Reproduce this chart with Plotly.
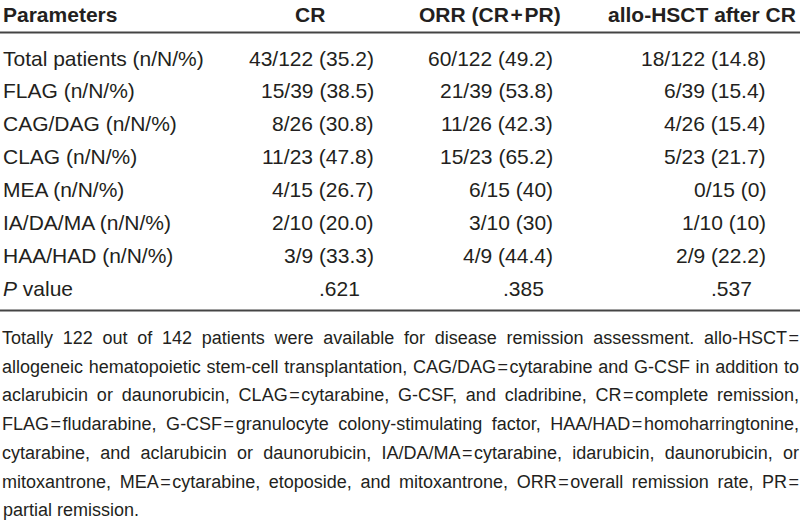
import json
import plotly.graph_objects as go

W, H = 800, 524

headers = ["Parameters", "CR", "ORR (CR\u200a+\u200aPR)", "allo-HSCT after CR"]
params = ["Total patients (n/N/%)", "FLAG (n/N/%)", "CAG/DAG (n/N/%)", "CLAG (n/N/%)",
          "MEA (n/N/%)", "IA/DA/MA (n/N/%)", "HAA/HAD (n/N/%)"]
cr_vals = ["43/122 (35.2)", "15/39 (38.5)", "8/26 (30.8)", "11/23 (47.8)",
           "4/15 (26.7)", "2/10 (20.0)", "3/9 (33.3)"]
orr_vals = ["60/122 (49.2)", "21/39 (53.8)", "11/26 (42.3)", "15/23 (65.2)",
            "6/15 (40)", "3/10 (30)", "4/9 (44.4)"]
allo_vals = ["18/122 (14.8)", "6/39 (15.4)", "4/26 (15.4)", "5/23 (21.7)",
             "0/15 (0)", "1/10 (10)", "2/9 (22.2)"]
p_label = "<i>P</i> value"
p_vals = [".621", ".385", ".537"]

EQ = "\u200a=\u200a"
footnote = [
    "Totally 122 out of 142 patients were available for disease remission assessment. allo-HSCT\u200a=",
    f"allogeneic hematopoietic stem-cell transplantation, CAG/DAG{EQ}cytarabine and G-CSF in addition to",
    f"aclarubicin or daunorubicin, CLAG{EQ}cytarabine, G-CSF, and cladribine, CR{EQ}complete remission,",
    f"FLAG{EQ}fludarabine, G-CSF{EQ}granulocyte colony-stimulating factor, HAA/HAD{EQ}homoharringtonine,",
    f"cytarabine, and aclarubicin or daunorubicin, IA/DA/MA{EQ}cytarabine, idarubicin, daunorubicin, or",
    f"mitoxantrone, MEA{EQ}cytarabine, etoposide, and mitoxantrone, ORR{EQ}overall remission rate, PR\u200a=",
    "partial remission.",
]

FONT = "Liberation Sans, Arial, sans-serif"
COL = "#231f20"
FS = 21
FFS = 18

fig = go.Figure()
ann = []

def add(text, x, y, anchor="left", size=FS, bold=False):
    if bold:
        text = f"<b>{text}</b>"
    ann.append(dict(text=text, x=x, y=y, xref="x", yref="y", xanchor=anchor,
                    yanchor="middle", showarrow=False,
                    font=dict(family=FONT, size=size, color=COL)))

# header
hy = 14
add(headers[0], 1, hy, "left", bold=True)
add(headers[1], 310, hy, "center", bold=True)
add(headers[2], 490, hy, "center", bold=True)
add(headers[3], 798, hy, "right", bold=True)

row0, dy = 58, 32.9
for i, p in enumerate(params):
    y = row0 + i * dy
    add(p, 1, y, "left")
    add(cr_vals[i], 376, y, "right")
    add(orr_vals[i], 555, y, "right")
    add(allo_vals[i], 768, y, "right")

y = row0 + len(params) * dy
add(p_label, 1, y, "left")
for v, x in zip(p_vals, [362, 546, 754]):
    add(v, x, y, "right")

f0, fdy = 338, 28.7
for i, line in enumerate(footnote):
    add(line, 1, f0 + i * fdy, "left", size=FFS)

shapes = [
    dict(type="line", xref="x", yref="y", x0=0, x1=W, y0=32.5, y1=32.5,
         line=dict(color="#444", width=2)),
    dict(type="line", xref="x", yref="y", x0=0, x1=W, y0=310.5, y1=310.5,
         line=dict(color="#444", width=2)),
]

fig.update_layout(
    width=W, height=H, margin=dict(l=0, r=0, t=0, b=0),
    paper_bgcolor="white", plot_bgcolor="white",
    xaxis=dict(range=[0, W], visible=False, fixedrange=True),
    yaxis=dict(range=[H, 0], visible=False, fixedrange=True),
    annotations=ann, shapes=shapes, showlegend=False,
)

# justify the footnote lines (all but the last) like the source text block
post = """
document.body.style.margin = '0';
var fl = %s;
var gd = document.getElementById('{plot_id}');
gd.querySelectorAll('text.annotation-text').forEach(function(t){
  var s = t.textContent;
  if (fl.indexOf(s) >= 0) {
    var b0 = t.getBBox();
    var n = (s.match(/ /g) || []).length;
    var w = t.getComputedTextLength();
    if (n > 0) {
      t.style.wordSpacing = ((797 - w) / n) + 'px';
      var b1 = t.getBBox();
      t.setAttribute('transform', 'translate(' + (1 - b1.x) + ',0)');
    }
  }
});
""" % json.dumps(footnote[:-1])

fig.write_html("out.html", post_script=post, config={"displayModeBar": False})
